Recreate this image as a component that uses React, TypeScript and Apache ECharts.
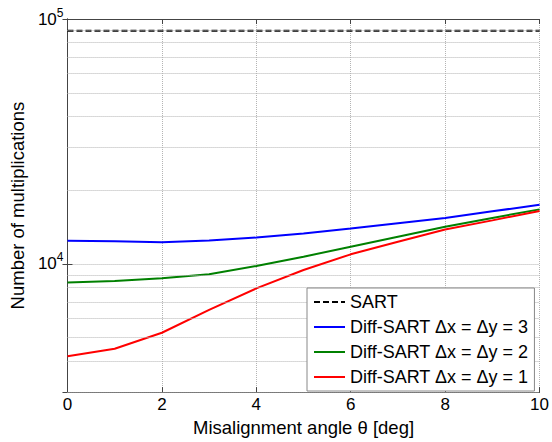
import React, { useEffect, useRef } from 'react';
import * as echarts from 'echarts';

const theta = [0, 1, 2, 3, 4, 5, 6, 7, 8, 9, 10];
const sart = [89600, 89600, 89600, 89600, 89600, 89600, 89600, 89600, 89600, 89600, 89600];
const diff3 = [12440, 12390, 12280, 12470, 12830, 13320, 13950, 14660, 15420, 16400, 17460];
const diff2 = [8410, 8530, 8750, 9080, 9815, 10710, 11760, 12910, 14180, 15420, 16710];
const diff1 = [4200, 4510, 5240, 6500, 7950, 9450, 10950, 12330, 13830, 15070, 16460];
const minorGridValues = [3000, 4000, 5000, 6000, 7000, 8000, 9000, 20000, 30000, 40000, 50000, 60000, 70000, 80000, 90000];
const seriesNames = ['SART', 'Diff-SART \u0394x = \u0394y = 3', 'Diff-SART \u0394x = \u0394y = 2', 'Diff-SART \u0394x = \u0394y = 1'];

const FONT = 'Liberation Sans, Arial, sans-serif';
const AXIS_COLOR = '#444';
const GRID_COLOR = '#b4b4b4';

const pair = (xs: number[], ys: number[]) => xs.map((x, i) => [x, ys[i]]);

export default function App() {
  const ref = useRef<HTMLDivElement>(null);
  useEffect(() => {
    const chart = echarts.init(ref.current!, null, { renderer: 'svg' });
    const isPow10 = (v: number) => {
      const l = Math.log10(v);
      return Math.abs(l - Math.round(l)) < 1e-6;
    };
    const option: any = {
      animation: false,
      backgroundColor: '#fff',
      textStyle: { fontFamily: FONT },
      grid: { left: 65, right: 10, top: 19, bottom: 47, containLabel: false },
      legend: {
        orient: 'vertical',
        left: 307,
        top: 288,
        width: 232,
        padding: [4, 6, 4, 6],
        itemGap: 5,
        itemWidth: 31,
        itemHeight: 14,
        itemTextGap: 4,
        backgroundColor: '#fff',
        borderColor: '#888',
        borderWidth: 1,
        borderRadius: 0,
        itemStyle: { opacity: 0 },
        textStyle: { fontFamily: FONT, fontSize: 18, color: '#000', lineHeight: 20 },
        data: seriesNames,
        z: 10,
      },
      xAxis: [
        {
          type: 'value',
          min: 0,
          max: 10,
          interval: 2,
          position: 'bottom',
          name: 'Misalignment angle \u03b8 [deg]',
          nameLocation: 'middle',
          nameGap: 23,
          nameTextStyle: { fontFamily: FONT, fontSize: 18.5, color: '#000' },
          axisLine: { show: true, lineStyle: { color: AXIS_COLOR, width: 1 } },
          axisTick: { show: true, inside: true, length: 5, lineStyle: { color: AXIS_COLOR } },
          axisLabel: { fontFamily: FONT, fontSize: 17, color: '#000', margin: 4 },
          splitLine: { show: true, lineStyle: { color: GRID_COLOR, type: 'dotted', width: 1 } },
        },
        {
          type: 'value',
          min: 0,
          max: 10,
          interval: 2,
          position: 'top',
          axisLine: { show: true, lineStyle: { color: AXIS_COLOR, width: 1 } },
          axisTick: { show: true, inside: true, length: 5, lineStyle: { color: AXIS_COLOR } },
          axisLabel: { show: false },
          splitLine: { show: false },
        },
      ],
      yAxis: [
        {
          type: 'log',
          logBase: 10,
          min: 3000,
          max: 100000,
          position: 'left',
          name: 'Number of multiplications',
          nameLocation: 'middle',
          nameGap: 37,
          nameTextStyle: { fontFamily: FONT, fontSize: 18.5, color: '#000' },
          axisLine: { show: true, lineStyle: { color: AXIS_COLOR, width: 1 } },
          axisTick: { show: true, inside: true, length: 5, lineStyle: { color: AXIS_COLOR } },
          axisLabel: {
            margin: 4,
            formatter: (v: number) => (isPow10(v) ? `{b|10}{s|${Math.round(Math.log10(v))}}` : ''),
            rich: {
              b: { fontFamily: FONT, fontSize: 17, color: '#000', lineHeight: 17, verticalAlign: 'bottom' },
              s: { fontFamily: FONT, fontSize: 12, color: '#000', lineHeight: 12, verticalAlign: 'bottom', padding: [0, 0, 9, 0] },
            },
          },
          splitLine: { show: true, lineStyle: { color: GRID_COLOR, type: 'dotted', width: 1 } },
        },
        {
          type: 'log',
          logBase: 10,
          min: 3000,
          max: 100000,
          position: 'right',
          axisLine: { show: true, lineStyle: { color: AXIS_COLOR, width: 1 } },
          axisTick: { show: true, inside: true, length: 5, lineStyle: { color: AXIS_COLOR } },
          axisLabel: { show: false },
          splitLine: { show: false },
        },
      ],
      series: [
        {
          name: 'minor-grid',
          type: 'line',
          data: [],
          silent: true,
          z: 1,
          markLine: {
            silent: true,
            symbol: ['none', 'none'],
            label: { show: false },
            lineStyle: { color: GRID_COLOR, type: 'dotted', width: 1 },
            data: minorGridValues.map((v) => ({ yAxis: v })),
          },
        },
        {
          name: seriesNames[0],
          type: 'line',
          data: pair(theta, sart),
          showSymbol: false,
          symbol: 'none',
          lineStyle: { color: '#000', width: 2, type: [6, 3] },
          itemStyle: { color: '#000' },
          z: 3,
        },
        {
          name: seriesNames[1],
          type: 'line',
          data: pair(theta, diff3),
          showSymbol: false,
          symbol: 'none',
          lineStyle: { color: '#0000ff', width: 2 },
          itemStyle: { color: '#0000ff' },
          z: 3,
        },
        {
          name: seriesNames[2],
          type: 'line',
          data: pair(theta, diff2),
          showSymbol: false,
          symbol: 'none',
          lineStyle: { color: '#008000', width: 2 },
          itemStyle: { color: '#008000' },
          z: 3,
        },
        {
          name: seriesNames[3],
          type: 'line',
          data: pair(theta, diff1),
          showSymbol: false,
          symbol: 'none',
          lineStyle: { color: '#ff0000', width: 2 },
          itemStyle: { color: '#ff0000' },
          z: 3,
        },
      ],
    };
    chart.setOption(option);
    return () => chart.dispose();
  }, []);
  return <div ref={ref} style={{ position: 'fixed', left: 0, top: 0, width: 552, height: 442 }} />;
}
